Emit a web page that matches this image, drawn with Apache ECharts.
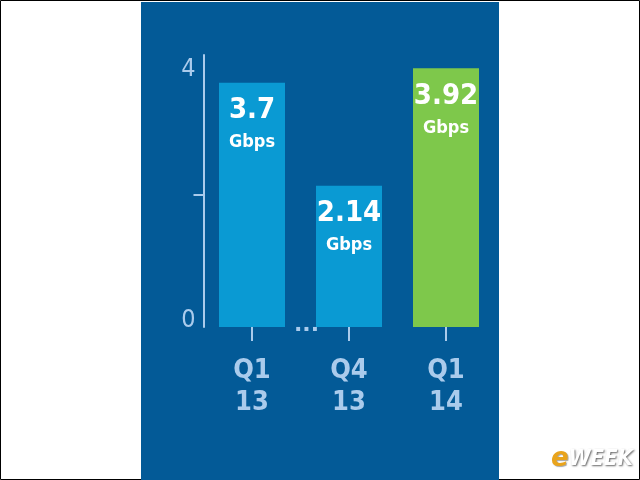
<!DOCTYPE html>
<html>
<head>
<meta charset="utf-8">
<script src="https://cdn.jsdelivr.net/npm/echarts@6/dist/echarts.min.js"></script>
<style>html,body{margin:0;padding:0;background:#fff;}#c{width:640px;height:480px;}</style>
</head>
<body>
<div id="c"></div>
<script>
var categories = ['Q1\n13', 'Q4\n13', 'Q1\n14'];
var values = [3.7, 2.14, 3.92];
var unitLabel = 'Gbps';
var yTickLabels = [0, 4];
var yTickMarks = [2];

var FONT = '"DejaVu Sans", sans-serif';
var LIGHT = '#aacbec';
var barColors = ['#0a9ad3', '#0a9ad3', '#7ec84b'];

var chart = echarts.init(document.getElementById('c'));
chart.setOption({
  animation: false,
  backgroundColor: '#ffffff',
  graphic: [
    { type: 'rect', z: -10, shape: { x: 0.5, y: 0.5, width: 639, height: 479 }, style: { fill: '#fff', stroke: '#000', lineWidth: 1 } },
    { type: 'rect', z: -9, shape: { x: 141, y: 2, width: 358, height: 478 }, style: { fill: '#035a97' } },
    { type: 'text', left: 294, top: 314, style: { text: '...', fill: LIGHT, font: 'bold 22px ' + FONT } },
    { type: 'text', left: 551, top: 446, style: {
        text: '{e|e}{w|WEEK}',
        rich: {
          e: { fill: '#e9a41c', font: 'italic bold 26px "DejaVu Sans"', textShadowColor: 'rgba(0,0,0,0.35)', textShadowOffsetX: 1, textShadowOffsetY: 1, textShadowBlur: 1 },
          w: { fill: '#ffffff', font: 'italic bold condensed 22px "DejaVu Sans"', textShadowColor: 'rgba(0,0,0,0.6)', textShadowOffsetX: 1, textShadowOffsetY: 1, textShadowBlur: 2 }
        }
      } }
  ],
  grid: { left: 203.5, right: 145.5, top: 55, bottom: 153 },
  xAxis: {
    type: 'category',
    data: categories,
    axisLine: { show: false },
    axisTick: { show: true, alignWithLabel: true, length: 14, lineStyle: { color: LIGHT, width: 2 } },
    axisLabel: { color: LIGHT, fontFamily: FONT, fontWeight: 'bold condensed', fontSize: 27, lineHeight: 32, margin: 28 }
  },
  yAxis: {
    type: 'value',
    min: 0,
    max: 4.12,
    axisLine: { show: true, lineStyle: { color: LIGHT, width: 2 } },
    axisTick: { show: true, customValues: yTickMarks, length: 10, lineStyle: { color: LIGHT, width: 2 } },
    splitLine: { show: false },
    axisLabel: {
      customValues: yTickLabels,
      margin: 8,
      formatter: function (v) { return v === 0 ? '{b|' + v + '}' : '{t|' + v + '}'; },
      rich: {
        t: { color: LIGHT, fontFamily: FONT, fontWeight: 'normal condensed', fontSize: 25, padding: [14, 0, 0, 0] },
        b: { color: LIGHT, fontFamily: FONT, fontWeight: 'normal condensed', fontSize: 25, padding: [0, 0, 14, 0] }
      }
    }
  },
  series: [{
    type: 'bar',
    barWidth: 66,
    data: values.map(function (v, i) { return { value: v, itemStyle: { color: barColors[i] } }; }),
    label: {
      show: true,
      position: 'insideTop',
      distance: 11,
      formatter: function (p) { return '{n|' + p.value + '}\n{u|' + unitLabel + '}'; },
      rich: {
        n: { color: '#fff', fontFamily: FONT, fontWeight: 'bold condensed', fontSize: 29, lineHeight: 34 },
        u: { color: '#fff', fontFamily: FONT, fontWeight: 'bold condensed', fontSize: 18, lineHeight: 30 }
      }
    }
  }]
});
</script>
</body>
</html>
